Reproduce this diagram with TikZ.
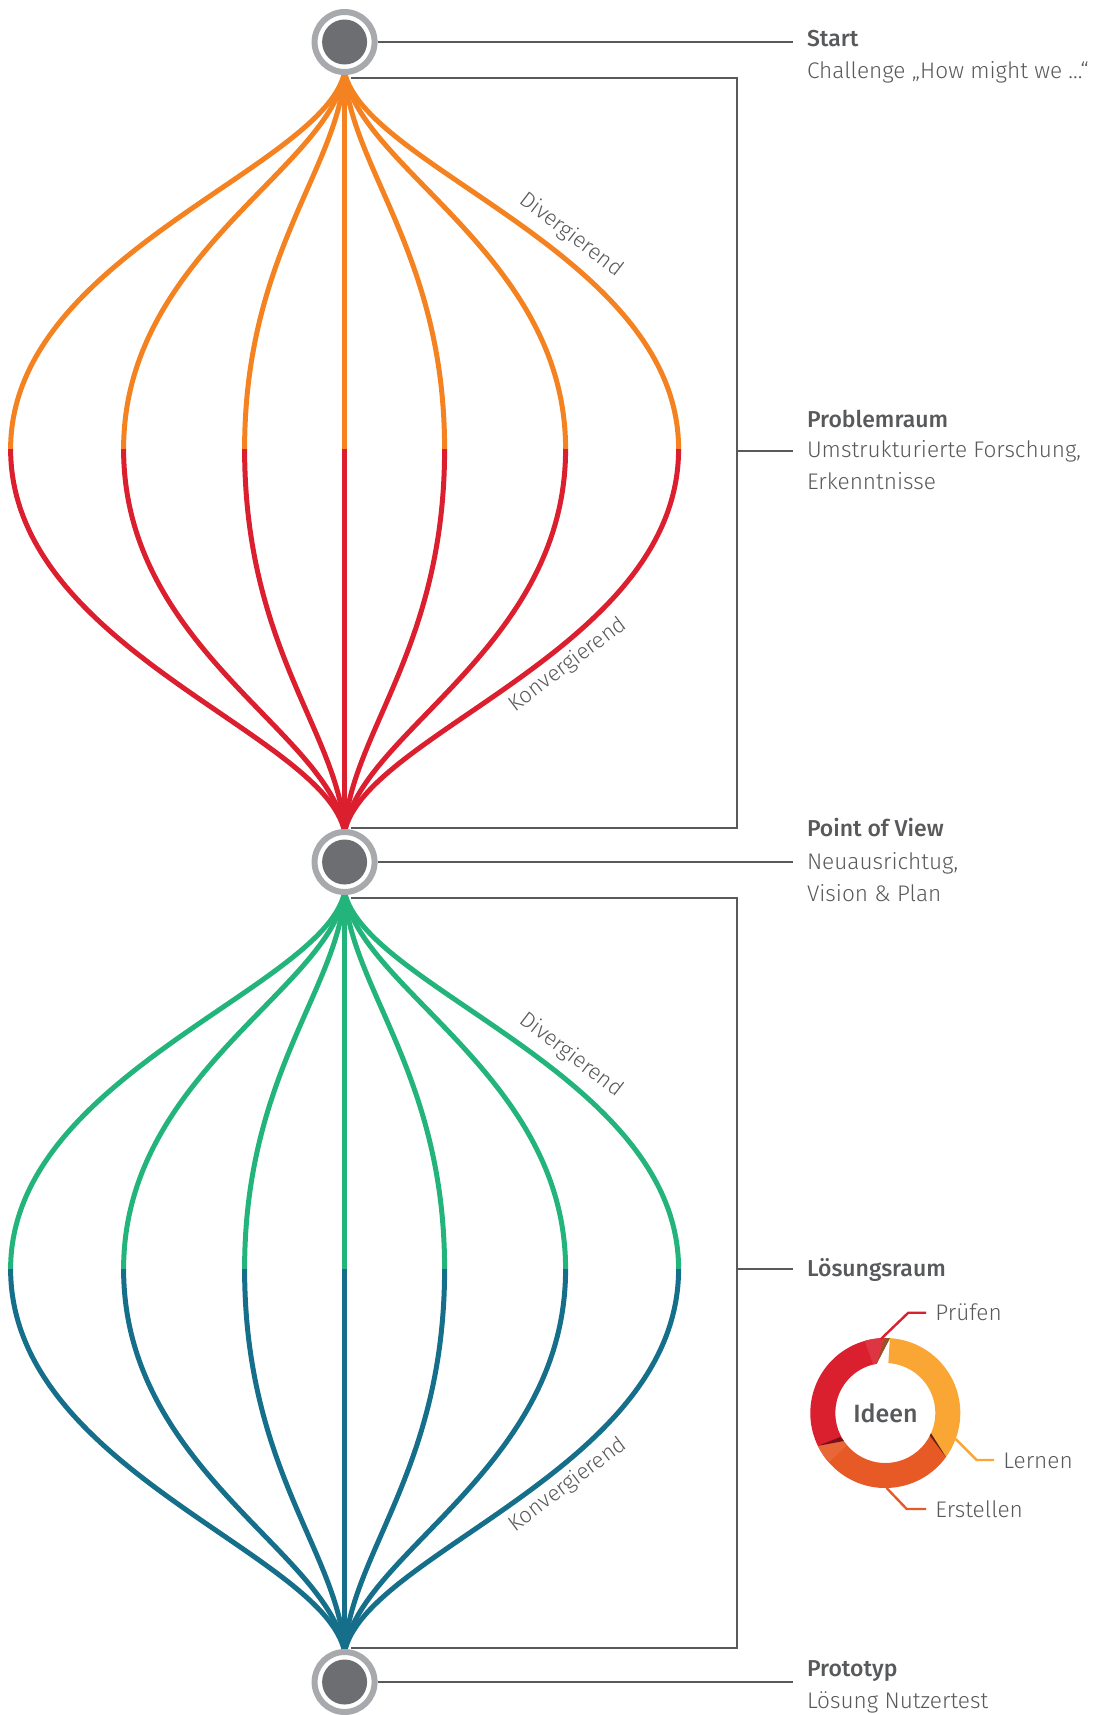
\documentclass[tikz,border=0pt]{standalone}
\usepackage{fontspec}
\setmainfont{Fira Sans Light}[BoldFont={Fira Sans Medium}]
\usetikzlibrary{positioning,calc}

\definecolor{divorange}{HTML}{F58220}
\definecolor{konvred}{HTML}{DC1F2E}
\definecolor{divgreen}{HTML}{23B47C}
\definecolor{konvteal}{HTML}{156F8B}
\definecolor{ringgray}{HTML}{A7A9AC}
\definecolor{diskgray}{HTML}{6D6E71}
\definecolor{inkgray}{HTML}{58595B}
\definecolor{lernencol}{HTML}{F9A634}
\definecolor{erstellencol}{HTML}{E75A26}
\definecolor{pruefencol}{HTML}{DA1F2E}

\begin{document}
\begin{tikzpicture}[x=0.5pt,y=-0.5pt,
    fan/.style = {line width=2.5pt},
    hub/.style = {circle, draw=ringgray, line width=3pt, fill=white, minimum size=30pt, inner sep=0pt,
                  path picture={\fill[diskgray] (path picture bounding box.center) circle (11.25pt);}},
    rule/.style = {draw=inkgray, line width=1.3pt},
    head/.style = {anchor=base west, inner xsep=6.8pt, inner ysep=0pt, text=inkgray, font=\fontsize{11.5}{16}\selectfont\bfseries},
    desc/.style = {anchor=base west, inner xsep=6.8pt, inner ysep=0pt, text=inkgray, align=left, font=\fontsize{11.3}{16}\selectfont},
    flow/.style = {text=inkgray, font=\fontsize{11}{13}\selectfont},
    leader/.style = {line width=1.2pt},
    ringlabel/.style = {anchor=west, inner xsep=4.5pt, inner ysep=0pt, text height=8pt, text depth=0pt, text=inkgray, font=\fontsize{11.3}{16}\selectfont}]

\useasboundingbox (0,0) rectangle (1095,1715);

% centres of the three stations
\coordinate (c1) at (344.6,42);
\coordinate (c2) at (344.6,862);
\coordinate (c3) at (344.6,1682);

% the two diamonds, each one diverging and then converging
\foreach \d [count=\i] in {-334,-221,-100,0,100,221,334} {
    \coordinate (pa\i) at (344.6+\d,449);
    \coordinate (pb\i) at (344.6+\d,1269);
    \draw[fan, divorange] ([yshift=-15pt]c1) .. controls +(0.06*\d,96) and +(0,-194) .. (pa\i);
    \draw[fan, konvred] (pa\i) .. controls +(0,200) and +(0.06*\d,-99) .. ([yshift=15pt]c2);
    \draw[fan, divgreen] ([yshift=-15pt]c2) .. controls +(0.06*\d,96) and +(0,-194) .. (pb\i);
    \draw[fan, konvteal] (pb\i) .. controls +(0,200) and +(0.06*\d,-99) .. ([yshift=15pt]c3);
}

\node[flow, rotate=-37.5] (div1) at (571,235) {Divergierend};
\node[flow, rotate=37] (konv1) at (568,665) {Konvergierend};
\node[flow, rotate=-37.5] (div2) at (571,1055) {Divergierend};
\node[flow, rotate=37] (konv2) at (568,1485) {Konvergierend};

% brackets
\draw[rule] (351,78) -- (737,78) -- (737,828) -- (351,828);
\draw[rule] (351,898) -- (737,898) -- (737,1648) -- (351,1648);
\coordinate (brk1) at (737,451);
\coordinate (brk2) at (737,1269);

% stations
\node[hub] (start) at (c1) {};
\node[hub] (pov) at (c2) {};
\node[hub] (proto) at (c3) {};

% labels (a node with two lines sits on its last baseline)
\node[head] (start-h) at (793,46) {Start};
\node[desc] (start-d) at (793,78) {Challenge „How might we ...“};
\node[head] (prob-h) at (793,427) {Problemraum};
\node[desc] (prob-d) at (793,489) {Umstrukturierte Forschung,\\Erkenntnisse};
\node[head] (pov-h) at (793,836) {Point of View};
\node[desc] (pov-d) at (793,901) {Neuausrichtug,\\Vision \& Plan};
\node[head] (loes-h) at (793,1276) {Lösungsraum};
\node[head] (proto-h) at (793,1676) {Prototyp};
\node[desc] (proto-d) at (793,1708) {Lösung Nutzertest};

\draw[rule] (start) -- (start -| start-h.west);
\draw[rule] (pov) -- (pov -| pov-h.west);
\draw[rule] (proto) -- (proto -| proto-h.west);
\draw[rule] (brk1) -- (brk1 -| prob-d.west);
\draw[rule] (brk2) -- (brk2 -| loes-h.west);

% ideas ring
\coordinate (ring) at (885.3,1413);
\fill[lernencol] (ring) ++(-86.5:75) arc[start angle=-86.5, end angle=36, radius=75]
    -- ($(ring)+(27:50)$) arc[start angle=27, end angle=-86.5, radius=50] -- cycle;
\fill[erstellencol] (ring) ++(36:75) arc[start angle=36, end angle=154, radius=75]
    -- ($(ring)+(140:50)$) arc[start angle=140, end angle=24, radius=50] -- cycle;
\fill[erstellencol!92!white] (ring) ++(139:75) arc[start angle=139, end angle=154, radius=75]
    -- ($(ring)+(146:50)$) arc[start angle=146, end angle=140, radius=50] -- cycle;
\fill[pruefencol] (ring) ++(154:75) arc[start angle=154, end angle=273.5, radius=75]
    -- ($(ring)+(260:50)$) arc[start angle=260, end angle=146, radius=50] -- cycle;
\fill[pruefencol!90!white] (ring) ++(254:75) arc[start angle=254, end angle=270, radius=75]
    -- ($(ring)+(260:50)$) arc[start angle=260, end angle=256, radius=50] -- cycle;
% dark slivers between the parts
\fill[black!55!lernencol!70!brown] ($(ring)+(260:50)$) -- ($(ring)+(270:75)$) -- ($(ring)+(273.5:75)$) -- cycle;
\fill[black!60!erstellencol] ($(ring)+(24:50)$) -- ($(ring)+(27:50)$) -- ($(ring)+(36:75)$) -- cycle;
\fill[black!45!pruefencol] ($(ring)+(146:50)$) -- ($(ring)+(152:51)$) -- ($(ring)+(154:75)$) -- cycle;

\node[font=\fontsize{12.5}{15}\selectfont\bfseries, text=inkgray, anchor=base] (ideen) at (885.5,1422) {Ideen};

\node[ringlabel] (pruefen) at (926,1312.7) {Prüfen};
\node[ringlabel] (lernen) at (994,1460) {Lernen};
\node[ringlabel] (erstellen) at (926,1509) {Erstellen};

\draw[leader, pruefencol] ($(ring)+(-93.5:74)$) -- ($(pruefen.west)+(-17.7,0)$) -- (pruefen.west);
\draw[leader, lernencol] ($(ring)+(20.3:75)$) -- ($(lernen.west)+(-17.3,0)$) -- (lernen.west);
\draw[leader, erstellencol] ($(ring)+(89:75)$) -- ($(erstellen.west)+(-19.3,0)$) -- (erstellen.west);

\end{tikzpicture}
\end{document}
